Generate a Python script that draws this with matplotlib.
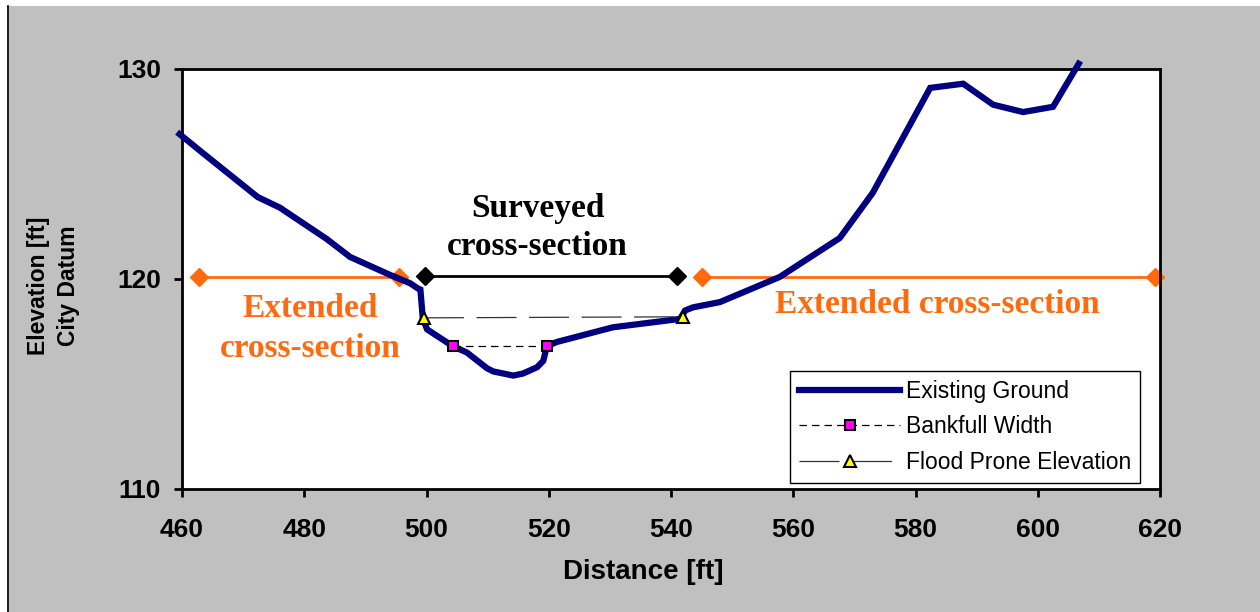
import numpy as np
import matplotlib.pyplot as plt
from matplotlib.patches import Rectangle
from matplotlib.lines import Line2D

# ground profile
dist = [459.6, 463.4, 472.4, 476.0, 483.7, 487.5, 494.0, 497.3, 498.6, 499.0,
        499.4, 500.1, 504.3, 506.6, 509.9, 510.9, 514.2, 515.8, 518.1, 519.1,
        519.7, 521.3, 530.5, 541.5, 542.3, 543.6, 548.0, 557.8, 567.6, 573.0,
        582.4, 587.8, 592.7, 597.6, 602.5, 606.7]
elev = [126.9, 126.0, 123.9, 123.4, 121.9, 121.05, 120.2, 119.8, 119.55, 119.5,
        118.1, 117.6, 116.8, 116.5, 115.75, 115.6, 115.4, 115.5, 115.8, 116.1,
        116.8, 117.0, 117.7, 118.1, 118.5, 118.65, 118.9, 120.1, 121.95, 124.1,
        129.1, 129.3, 128.3, 127.95, 128.2, 130.25]

bank_x = [504.3, 519.7]
bank_y = [116.8, 116.8]
flood_x = [499.6, 542.0]
flood_y = [118.15, 118.2]
surv_x = [499.8, 541.0]
surv_y = [120.15, 120.15]
extl_x = [462.8, 495.5]
extl_y = [120.1, 120.1]
extr_x = [545.1, 619.2]
extr_y = [120.1, 120.1]

xticks = [460, 480, 500, 520, 540, 560, 580, 600, 620]
yticks = [110, 120, 130]

orange = '#ff6a0e'
navy = '#000080'

fig = plt.figure(figsize=(12.6, 6.12), dpi=100)
fig.patch.set_facecolor('white')
fig.patches.append(Rectangle((7/1260, 0), 1 - 7/1260, 1 - 6/612, transform=fig.transFigure,
                             facecolor='#c0c0c0', edgecolor='none', zorder=-10))
fig.lines.append(Line2D([7.5/1260, 7.5/1260], [0, 1 - 6/612], transform=fig.transFigure,
                        color='black', lw=1.2))

ax = fig.add_axes([182/1260, 1 - 489/612, 978/1260, 420/612])
ax.set_facecolor('white')

ax.plot(dist, elev, color=navy, lw=4.5, solid_joinstyle='miter', clip_on=False,
        zorder=3, label='Existing Ground')
ax.plot(bank_x, bank_y, color='black', lw=0.9, dashes=(6, 4), marker='s', ms=7,
        mfc='#ff00ff', mec='black', mew=1.5, zorder=4, label='Bankfull Width')
ax.plot(flood_x, flood_y, color='#333333', lw=0.9, dashes=(32, 10), marker='^', ms=8,
        mfc='#ffff00', mec='black', mew=1.5, zorder=4, label='Flood Prone Elevation')
ax.plot(surv_x, surv_y, color='black', lw=2, marker='D', ms=9, zorder=4)
ax.plot(extl_x, extl_y, color=orange, lw=2, marker='D', ms=9, zorder=2)
ax.plot(extr_x, extr_y, color=orange, lw=2, marker='D', ms=9, zorder=2, clip_on=False)

ax.set_xlim(460, 620)
ax.set_ylim(110, 130)
ax.set_xticks(xticks)
ax.set_yticks(yticks)
for s in ax.spines.values():
    s.set_linewidth(2)
ax.tick_params(axis='x', direction='out', length=6, width=2, labelsize=19, pad=15)
ax.tick_params(axis='y', direction='out', length=6, width=2, labelsize=19, pad=9)
for lab in ax.get_xticklabels() + ax.get_yticklabels():
    lab.set_fontweight('bold')
    lab.set_family('Liberation Sans')

serif = 'Liberation Serif'
ax.text(518.2, 122.45, 'Surveyed\ncross-section', ha='center', va='center', fontsize=24,
        fontweight='bold', family=serif, linespacing=1.3)
ax.text(481, 117.65, 'Extended\ncross-section', ha='center', va='center', fontsize=24,
        fontweight='bold', family=serif, color=orange, linespacing=1.35)
ax.text(583.5, 118.8, 'Extended cross-section', ha='center', va='center', fontsize=24,
        fontweight='bold', family=serif, color=orange)

leg = ax.legend(loc='lower right', bbox_to_anchor=(0.98, 0.014), borderaxespad=0,
                fancybox=False, framealpha=1, edgecolor='black', handlelength=4.4,
                handletextpad=0.25, prop={'family': 'Liberation Sans', 'size': 16.5},
                borderpad=0.4, labelspacing=0.55)
leg.get_frame().set_linewidth(1)

fig.text(643/1260, 1 - 572/612, 'Distance [ft]', ha='center', va='center', fontsize=20,
         fontweight='bold', family='Liberation Sans')
fig.text(38/1260, 1 - 286/612, 'Elevation [ft]', ha='center', va='center', rotation=90,
         fontsize=16.5, fontweight='bold', family='Liberation Sans')
fig.text(68/1260, 1 - 286/612, 'City Datum', ha='center', va='center', rotation=90,
         fontsize=16.5, fontweight='bold', family='Liberation Sans')

fig.savefig('out.png', dpi=100, facecolor=fig.get_facecolor())
